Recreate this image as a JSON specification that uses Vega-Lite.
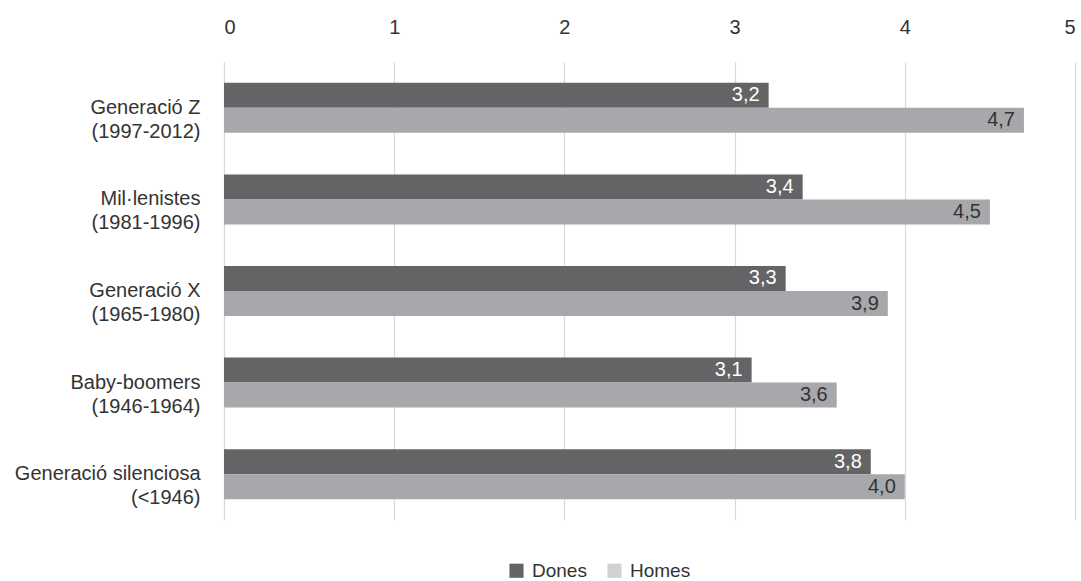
{
  "$schema": "https://vega.github.io/schema/vega-lite/v6.json",
  "width": 851,
  "height": 458,
  "autosize": {"type": "none"},
  "padding": {"left": 224, "top": 62, "right": 6, "bottom": 61},
  "background": "white",
  "config": {
    "locale": {"number": {"decimal": ",", "thousands": ".", "grouping": [3], "currency": ["", " €"]}},
    "view": {"stroke": null},
    "font": "Liberation Sans",
    "axis": {"labelFont": "Liberation Sans", "labelColor": "#333333"}
  },
  "data": {
    "values": [
      {"gen": "Generació Z|(1997-2012)", "sex": "Dones", "v": 3.2},
      {"gen": "Generació Z|(1997-2012)", "sex": "Homes", "v": 4.7},
      {"gen": "Mil·lenistes|(1981-1996)", "sex": "Dones", "v": 3.4},
      {"gen": "Mil·lenistes|(1981-1996)", "sex": "Homes", "v": 4.5},
      {"gen": "Generació X|(1965-1980)", "sex": "Dones", "v": 3.3},
      {"gen": "Generació X|(1965-1980)", "sex": "Homes", "v": 3.9},
      {"gen": "Baby-boomers|(1946-1964)", "sex": "Dones", "v": 3.1},
      {"gen": "Baby-boomers|(1946-1964)", "sex": "Homes", "v": 3.6},
      {"gen": "Generació silenciosa|(<1946)", "sex": "Dones", "v": 3.8},
      {"gen": "Generació silenciosa|(<1946)", "sex": "Homes", "v": 4.0}
    ]
  },
  "encoding": {
    "y": {
      "field": "gen", "type": "nominal", "sort": null,
      "scale": {"paddingInner": 0.454, "paddingOuter": 0.227},
      "axis": {
        "title": null, "domain": false, "ticks": false, "grid": false,
        "labelExpr": "split(datum.value, '|')",
        "labelFontSize": 20, "labelLineHeight": 24, "labelPadding": 24,
        "labelBaseline": "middle", "labelLimit": 300
      }
    },
    "yOffset": {"field": "sex", "type": "nominal", "sort": ["Dones", "Homes"], "scale": {"paddingInner": 0, "paddingOuter": 0}},
    "x": {
      "field": "v", "type": "quantitative",
      "scale": {"domain": [0, 5], "nice": false},
      "axis": {
        "orient": "top", "title": null, "domain": false, "ticks": false,
        "values": [0, 1, 2, 3, 4, 5], "format": "d",
        "labelFontSize": 20, "labelPadding": 25,
        "gridColor": "#d9d9d9", "gridWidth": 1.2
      }
    }
  },
  "layer": [
    {
      "mark": {"type": "bar"},
      "encoding": {
        "fill": {"condition": {"test": "datum.sex === 'Dones'", "value": "#646466"}, "value": "#a7a8ab"}
      }
    },
    {
      "transform": [{"filter": "false"}],
      "mark": {"type": "bar"},
      "encoding": {
        "color": {
          "field": "sex", "type": "nominal",
          "scale": {"domain": ["Dones", "Homes"], "range": ["#646466", "#d0d1d3"]},
          "legend": {
            "title": null, "orient": "none", "direction": "horizontal",
            "legendX": 283, "legendY": 499,
            "symbolType": "square", "symbolSize": 200, "symbolStrokeWidth": 0,
            "labelFontSize": 19, "labelColor": "#333333", "columnPadding": 18, "labelOffset": 6
          }
        }
      }
    },
    {
      "mark": {"type": "text", "align": "right", "baseline": "middle", "dx": -9, "fontSize": 20},
      "encoding": {
        "text": {"field": "v", "type": "quantitative", "format": ".1f"},
        "color": {"condition": {"test": "datum.sex === 'Dones'", "value": "#ffffff"}, "value": "#333333"}
      }
    }
  ]
}
